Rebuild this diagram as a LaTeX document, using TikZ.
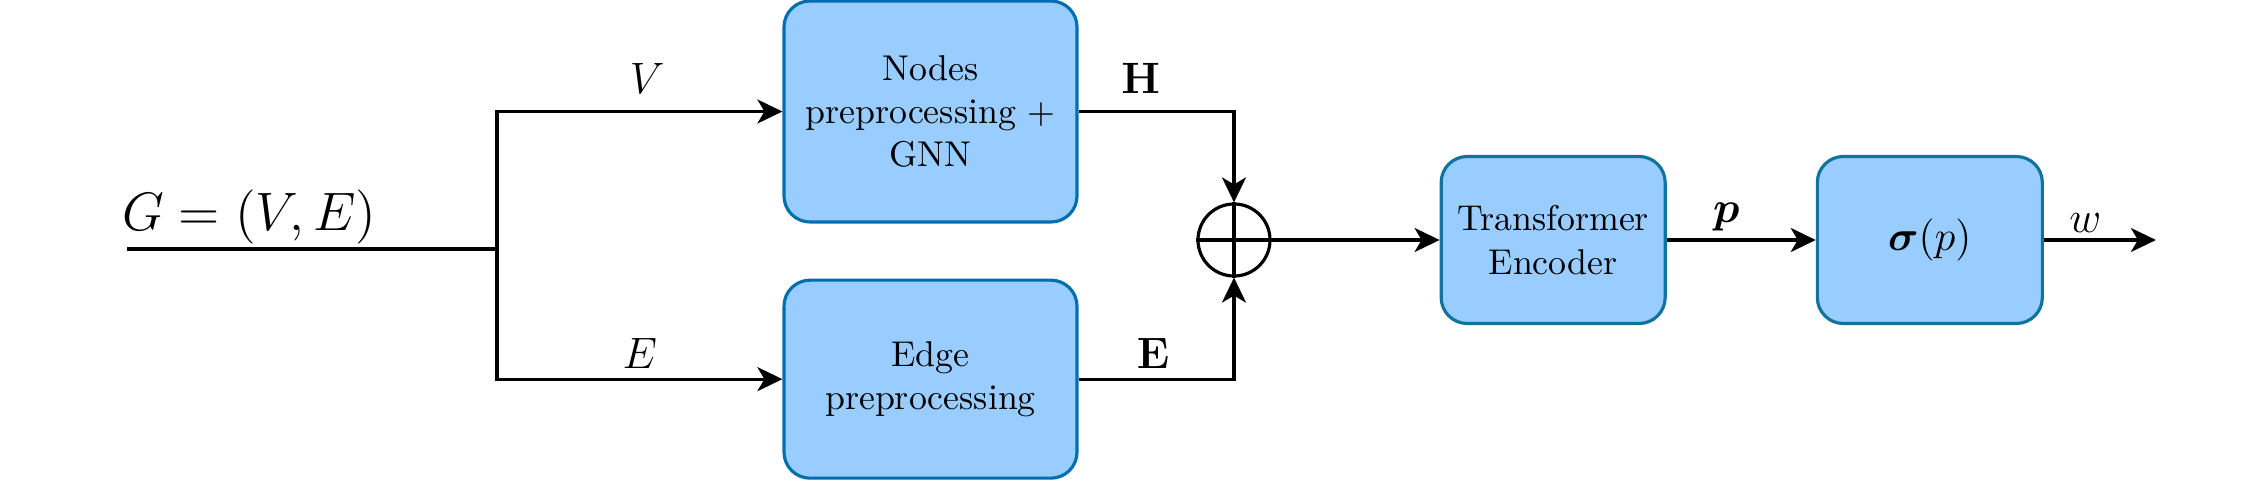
\RequirePackage{fix-cm}
\documentclass[tikz,border=0pt]{standalone}
\usepackage{bm}
\usetikzlibrary{arrows.meta,positioning}
\definecolor{boxfill}{RGB}{153,204,255}
\definecolor{boxline}{RGB}{0,110,175}
\definecolor{encline}{RGB}{16,115,158}

\begin{document}
\begin{tikzpicture}[
  node distance=5mm and 15mm,
  block/.style={draw=boxline, fill=boxfill, line width=0.9pt, rounded corners=2.6mm, align=center, font=\fontsize{10.2}{12.3}\selectfont},
  lbl/.style={inner sep=0pt, outer sep=0pt, text depth=0pt, font=\fontsize{12.5}{14}\selectfont},
  arrow/.style={-{Stealth[length=2.5mm,width=2.4mm,inset=0.7mm]}, line width=0.9pt}
]
\useasboundingbox (0,0) rectangle (22.54,4.99);
\node[block, minimum width=29.3mm, minimum height=22.1mm] (gnn) at (9.305,3.875) {Nodes\\preprocessing +\\GNN};
\node[block, minimum width=29.3mm, minimum height=19.8mm, below=5.5mm of gnn] (edge) {Edge\\preprocessing};
\node[circle, draw, line width=0.9pt, minimum size=7.2mm, inner sep=0pt] (sum) at (12.34,2.59) {};
\node[block, draw=encline, minimum width=22.4mm, minimum height=16.7mm, right=16.8mm of sum] (enc) {Transformer\\Encoder};
\node[block, draw=encline, minimum width=22.5mm, minimum height=16.7mm, right=14.9mm of enc, font=\fontsize{12}{14}\selectfont] (sig) {$\bm{\sigma}(p)$};
\coordinate (in) at (1.27,2.50);
\coordinate (split) at (4.97,2.50);
\coordinate[right=11.2mm of sig] (out);
\node[lbl, font=\fontsize{15.4}{18}\selectfont, above right=1.9mm and -0.5mm of in] (graph) {$G=(V,E)$};

\draw[line width=0.9pt] (in) -- (split);
\draw[arrow] (split) |- node[lbl, pos=0.763, above=5pt] (lv) {$V$} (gnn.west);
\draw[arrow] (split) |- node[lbl, pos=0.75, above=3pt] (le) {$E$} (edge.west);
\draw[arrow] (gnn.east) -| node[lbl, pos=0.2, above=5pt] (lh) {$\mathbf{H}$} (sum.north);
\draw[arrow] (edge.east) -| node[lbl, pos=0.24, above=3pt] (lee) {$\mathbf{E}$} (sum.south);
\draw[line width=0.9pt] (sum.north) -- (sum.south) (sum.west) -- (sum.east);
\draw[arrow] (sum) -- (enc);
\draw[arrow] (enc) -- node[lbl, pos=0.4, above=5pt] (lp) {$\bm{p}$} (sig);
\draw[arrow] (sig) -- node[lbl, pos=0.37, above=2pt] (lw) {$w$} (out);
\end{tikzpicture}
\end{document}
